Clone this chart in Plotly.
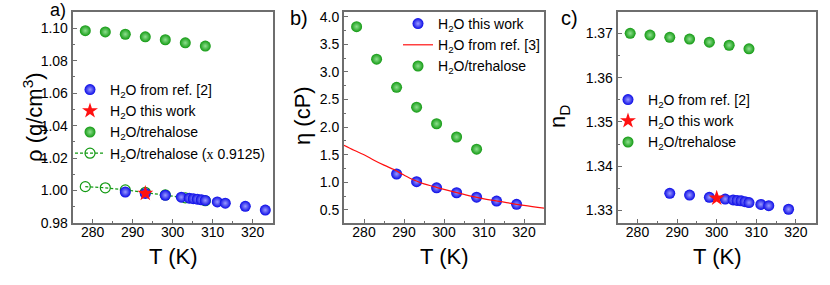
import plotly.graph_objects as go

# ---------------- data ----------------
T_treh = [278.15, 283.15, 288.15, 293.15, 298.15, 303.15, 308.15]

# panel a: density
T_rho_ref = [288.15, 293.15, 298.15, 302.15, 304.15, 305.15, 306.15, 307.15, 308.15, 311.15, 313.15, 318.15, 323.15]
rho_ref = [0.9991, 0.9982, 0.9971, 0.9959, 0.9953, 0.9950, 0.9947, 0.9943, 0.9939, 0.9930, 0.9922, 0.9903, 0.9880]
T_rho_this = [293.15]
rho_this = [0.9982]
rho_treh = [1.0985, 1.0977, 1.0963, 1.0947, 1.0929, 1.0910, 1.0890]
rho_treh_scaled = [1.0024, 1.0017, 1.0004, 0.9989, 0.9973, 0.9955, 0.9937]

# panel b: viscosity
T_eta_this = [288.15, 293.15, 298.15, 303.15, 308.15, 313.15, 318.15]
eta_this = [1.15, 1.01, 0.90, 0.81, 0.73, 0.66, 0.60]
T_eta_ref = [275, 277.5, 280, 282.5, 285, 287.5, 290, 292.5, 295, 297.5, 300, 305, 310, 315, 320, 325]
eta_ref = [1.67, 1.58, 1.50, 1.40, 1.31, 1.23, 1.13, 1.04, 0.97, 0.92, 0.87, 0.78, 0.70, 0.64, 0.58, 0.53]
eta_treh = [3.82, 3.23, 2.72, 2.36, 2.06, 1.82, 1.60]

# panel c: refractive index
T_n_ref = [288.15, 293.15, 298.15, 302.15, 304.15, 305.15, 306.15, 307.15, 308.15, 311.15, 313.15, 318.15]
n_ref = [1.3339, 1.3335, 1.3330, 1.3326, 1.3324, 1.3323, 1.3322, 1.3320, 1.3318, 1.3314, 1.3311, 1.3303]
T_n_this = [300.0]
n_this = [1.3328]
n_treh = [1.3700, 1.3696, 1.3691, 1.3687, 1.3680, 1.3673, 1.3665]

x_ticks = [280, 290, 300, 310, 320]

# ---------------- styles ----------------
FONT = "Arial, Liberation Sans, sans-serif"
BLUE = "#0a0ae6"
GREEN = "#139a13"
blue_m = dict(size=11, color=BLUE, gradient=dict(type="radial", color="#9a9aff"), line=dict(width=0))
green_m = dict(size=11, color=GREEN, gradient=dict(type="radial", color="#8fe08f"), line=dict(width=0))
star_m = dict(size=12, color="#ff1010", symbol="star", line=dict(width=0))

fig = go.Figure()

# ---- panel a ----
fig.add_trace(go.Scatter(x=T_treh, y=rho_treh_scaled, mode="lines+markers",
                         name="H<sub>2</sub>O/trehalose (<span style='font-family:Liberation Serif'>x</span> 0.9125)",
                         line=dict(color=GREEN, width=1.2, dash="3px,2px"),
                         marker=dict(size=10, color=GREEN, symbol="circle-open", line=dict(color=GREEN, width=1.2)),
                         xaxis="x", yaxis="y", legend="legend", legendrank=4))
fig.add_trace(go.Scatter(x=T_rho_ref, y=rho_ref, mode="markers", name="H<sub>2</sub>O from ref. [2]",
                         marker=blue_m, xaxis="x", yaxis="y", legend="legend", legendrank=1))
fig.add_trace(go.Scatter(x=T_rho_this, y=rho_this, mode="markers", name="H<sub>2</sub>O this work",
                         marker=star_m, xaxis="x", yaxis="y", legend="legend", legendrank=2))
fig.add_trace(go.Scatter(x=T_treh, y=rho_treh, mode="markers", name="H<sub>2</sub>O/trehalose",
                         marker=green_m, xaxis="x", yaxis="y", legend="legend", legendrank=3))

# ---- panel b ----
fig.add_trace(go.Scatter(x=T_eta_this, y=eta_this, mode="markers", name="H<sub>2</sub>O this work",
                         marker=blue_m, xaxis="x2", yaxis="y2", legend="legend2", legendrank=1))
fig.add_trace(go.Scatter(x=T_eta_ref, y=eta_ref, mode="lines", name="H<sub>2</sub>O from ref. [3]",
                         line=dict(color="#ff1010", width=1.2, shape="spline"),
                         xaxis="x2", yaxis="y2", legend="legend2", legendrank=2))
fig.add_trace(go.Scatter(x=T_treh, y=eta_treh, mode="markers", name="H<sub>2</sub>O/trehalose",
                         marker=green_m, xaxis="x2", yaxis="y2", legend="legend2", legendrank=3))

# ---- panel c ----
fig.add_trace(go.Scatter(x=T_n_ref, y=n_ref, mode="markers", name="H<sub>2</sub>O from ref. [2]",
                         marker=blue_m, xaxis="x3", yaxis="y3", legend="legend3", legendrank=1))
fig.add_trace(go.Scatter(x=T_n_this, y=n_this, mode="markers", name="H<sub>2</sub>O this work",
                         marker=star_m, xaxis="x3", yaxis="y3", legend="legend3", legendrank=2))
fig.add_trace(go.Scatter(x=T_treh, y=n_treh, mode="markers", name="H<sub>2</sub>O/trehalose",
                         marker=green_m, xaxis="x3", yaxis="y3", legend="legend3", legendrank=3))

W, H = 830, 285
ydom = [1 - 223 / H, 1 - 12 / H]
AX = dict(showline=True, linecolor="#6e6e6e", linewidth=2, mirror=True, ticks="inside", ticklen=4,
          tickwidth=1.2, tickcolor="#6e6e6e", showgrid=False, zeroline=False, automargin=False,
          tickfont=dict(family=FONT, size=14, color="black"))


def xax(dom):
    return dict(AX, domain=dom, range=[275, 325], tickvals=x_ticks, ticklabelstandoff=-5,
                minor=dict(ticks="inside", ticklen=2, dtick=5, tick0=275, tickcolor="#6e6e6e", showgrid=False))


def yax(rng, ticks, fmt, minor_dt, anchor):
    return dict(AX, domain=ydom, range=rng, tickvals=ticks, tickformat=fmt, anchor=anchor,
                minor=dict(ticks="inside", ticklen=2, dtick=minor_dt, tick0=ticks[0], tickcolor="#6e6e6e", showgrid=False))


LEG = dict(bgcolor="rgba(0,0,0,0)", font=dict(family=FONT, size=14, color="black"),
           xanchor="left", yanchor="top", traceorder="normal", itemwidth=30)


def ann(text, xp, yp, size, angle=0):
    return dict(text=text, x=xp / W, y=1 - yp / H, xref="paper", yref="paper", showarrow=False,
                xanchor="center", yanchor="middle", textangle=angle, borderpad=0,
                font=dict(family=FONT, size=size, color="black"))


fig.update_layout(
    width=W, height=H, margin=dict(l=0, r=0, t=0, b=0, autoexpand=False),
    paper_bgcolor="white", plot_bgcolor="white",
    xaxis=xax([72.7 / W, 272.7 / W]) | dict(anchor="y"),
    xaxis2=xax([344 / W, 544 / W]) | dict(anchor="y2"),
    xaxis3=xax([617.7 / W, 815.7 / W]) | dict(anchor="y3"),
    yaxis=yax([0.98, 1.11], [0.98, 1.00, 1.02, 1.04, 1.06, 1.08, 1.10], ".2f", 0.01, "x"),
    yaxis2=yax([0.262, 4.085], [0.5, 1.0, 1.5, 2.0, 2.5, 3.0, 3.5, 4.0], ".1f", 0.25, "x2"),
    yaxis3=yax([1.3272, 1.3748], [1.33, 1.34, 1.35, 1.36, 1.37], ".2f", 0.005, "x3"),
    legend=dict(LEG, x=70 / W, y=1 - 74 / H),
    legend2=dict(LEG, x=398 / W, y=1 - 8 / H),
    legend3=dict(LEG, x=608 / W, y=1 - 84 / H),
    showlegend=True,
    annotations=[
        ann("a)", 58, 10, 18), ann("b)", 299, 18, 20), ann("c)", 569, 18, 20),
        ann("T (K)", 172.7, 256, 22), ann("T (K)", 444, 256, 22), ann("T (K)", 716.7, 256, 22),
        ann("ρ (g/cm<sup>3</sup>)", 33, 117, 22, -90),
        ann("η (cP)", 303, 116, 22, -90),
        ann("n<sub>D</sub>", 559, 117, 22, -90),
    ],
)

fig.write_html("out.html", config={"displayModeBar": False},
               post_script="document.body.style.margin='0';")
